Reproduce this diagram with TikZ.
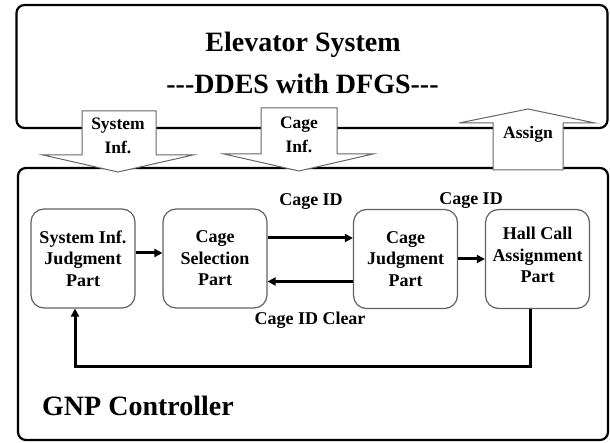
\documentclass[tikz,border=0pt]{standalone}
\usepackage{fontspec}
\setmainfont{Liberation Serif}
\usetikzlibrary{arrows.meta}
\begin{document}
\begin{tikzpicture}[x=1pt,y=-1pt,
  outer/.style={draw=black,line width=2.2pt,rounded corners=8pt,inner sep=0pt},
  part/.style={draw=black!62,line width=1.2pt,rounded corners=13pt,minimum width=104pt,minimum height=99pt,inner sep=0pt},
  parttext/.style={align=center,font=\bfseries\fontsize{18}{21.5}\selectfont,inner sep=0pt},
  bigarrow/.style={draw=black!60,fill=white,line width=1pt},
  arrowtxt/.style={align=center,font=\bfseries\fontsize{17.5}{24}\selectfont,inner sep=0pt},
  flow/.style={line width=3pt,-{Triangle[length=8pt,width=8pt]}},
  lbl/.style={font=\bfseries\fontsize{18}{21}\selectfont,inner sep=0pt},
  big/.style={font=\bfseries\fontsize{28}{34}\selectfont,inner sep=0pt}
]
\useasboundingbox (0,0) rectangle (610,443);
% outer boxes
\node[outer,minimum width=591pt,minimum height=123pt] (sys) at (312,66.5) {};
\node[outer,minimum width=590pt,minimum height=272pt] (ctrl) at (313,304) {};
\node[big,anchor=base] (t1) at (303,52) {Elevator System};
\node[big,anchor=base] (t2) at (302.5,94) {{-}{-}{-}DDES with DFGS{-}{-}{-}};
\node[big,anchor=base west] (gnp) at (42,415) {GNP Controller};
% big arrows
\draw[bigarrow] (82,111) -- (156,111) -- (156,155) -- (193,155) -- (118,172) -- (43,155) -- (82,155) -- cycle;
\node[arrowtxt] (a1) at (118,136) {System\\Inf.};
\draw[bigarrow] (261,108) -- (337,108) -- (337,154) -- (373,154) -- (299,171) -- (224,154) -- (261,154) -- cycle;
\node[arrowtxt] (a2) at (299,135) {Cage\\Inf.};
\draw[bigarrow] (493,170) -- (563,170) -- (563,123) -- (595,123) -- (528,109) -- (459,123) -- (493,123) -- cycle;
\node[arrowtxt] (a3) at (528,134) {Assign};
% parts
\node[part] (b1) at (83,258.5) {};
\node[parttext] at (b1) {System Inf.\\Judgment\\Part};
\node[part] (b2) at (215,258.5) {};
\node[parttext] at (b2) {Cage\\Selection\\Part};
\node[part] (b3) at (405.5,259) {};
\node[parttext] at (b3) {Cage\\Judgment\\Part};
\node[part] (b4) at (537.5,259) {};
\node[parttext] at ([yshift=4pt]b4.center) {Hall Call\\Assignment\\Part};
% connectors
\draw[flow] ([yshift=5.5pt]b1.east) -- ([yshift=5.5pt]b2.west);
\draw[flow] ([yshift=20.5pt]b2.east) -- ([yshift=20.5pt]b2.east -| b3.west);
\draw[flow] ([yshift=-22.5pt]b3.west) -- ([yshift=-22.5pt]b3.west -| b2.east);
\draw[flow] (b3.east) -- (b3.east -| b4.west);
\draw[flow] ([xshift=-7.5pt]b4.south) -- ++(0,57) -| ([xshift=-8pt]b1.south);
% labels
\node[lbl] (l1) at (311,202) {Cage ID};
\node[lbl] (l2) at (471,201) {Cage ID};
\node[lbl] (l3) at (310,320) {Cage ID Clear};
\end{tikzpicture}
\end{document}
